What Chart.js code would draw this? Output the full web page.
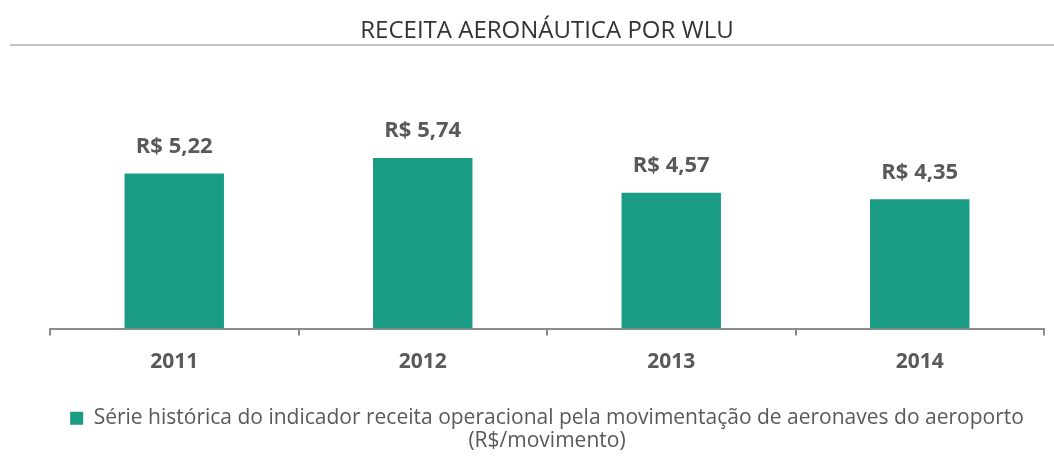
<!DOCTYPE html>
<html>
<head>
<meta charset="utf-8">
<script src="https://cdn.jsdelivr.net/npm/chart.js@4"></script>
<style>
  body { margin: 0; background: #ffffff; }
</style>
</head>
<body>
<canvas id="chart" width="1054" height="464"></canvas>
<script>
const years = ['2011', '2012', '2013', '2014'];
const receita = [5.22, 5.74, 4.57, 4.35];
const chartTitle = 'RECEITA AERONÁUTICA POR WLU';
const seriesName = 'Série histórica do indicador receita operacional pela movimentação de aeronaves do aeroporto';
const unitText = '(R$/movimento)';

const teal = '#1a9b83';
const grey = '#595959';

// "R$ 5,22" style label
function brl(v) {
    return 'R$ ' + v.toFixed(2).replace('.', ',');
}

// grey rule under the title
const titleRule = {
    id: 'titleRule',
    afterDraw(chart) {
        const ctx = chart.ctx;
        ctx.save();
        ctx.strokeStyle = '#c3c3c3';
        ctx.lineWidth = 2;
        ctx.beginPath();
        ctx.moveTo(10, 45);
        ctx.lineTo(chart.width, 45);
        ctx.stroke();
        ctx.restore();
    }
};

// value labels above the bars
const barValues = {
    id: 'barValues',
    afterDatasetsDraw(chart) {
        const ctx = chart.ctx;
        const meta = chart.getDatasetMeta(0);
        ctx.save();
        ctx.fillStyle = grey;
        ctx.font = 'bold 22px "Open Sans"';
        ctx.textAlign = 'center';
        ctx.textBaseline = 'middle';
        meta.data.forEach((bar, i) => {
            ctx.fillText(brl(receita[i]), bar.x, bar.y - 27);
        });
        ctx.restore();
    }
};

new Chart(document.getElementById('chart'), {
    type: 'bar',
    data: {
        labels: years,
        datasets: [{
            label: seriesName,
            data: receita,
            backgroundColor: teal,
            barPercentage: 0.4,
            categoryPercentage: 1.0
        }]
    },
    options: {
        responsive: false,
        devicePixelRatio: 1,
        animation: false,
        layout: {
            padding: { left: 50, right: 10, bottom: 0 }
        },
        scales: {
            x: {
                grid: {
                    offset: true,
                    drawOnChartArea: false,
                    drawTicks: true,
                    tickLength: 7,
                    color: '#8c8c8c',
                    lineWidth: 2
                },
                border: { display: true, color: '#8c8c8c', width: 2 },
                ticks: {
                    color: grey,
                    padding: 14,
                    font: { family: 'Open Sans', size: 21, weight: 'bold' }
                }
            },
            y: {
                display: false,
                min: 0,
                max: 8
            }
        },
        plugins: {
            title: {
                display: true,
                text: chartTitle,
                color: '#333333',
                font: { family: 'Open Sans', size: 24, weight: 'normal' },
                padding: { top: 17, bottom: 45 }
            },
            subtitle: {
                display: true,
                position: 'bottom',
                text: unitText,
                color: grey,
                font: { family: 'Open Sans', size: 21 },
                padding: { top: -10, bottom: 10 }
            },
            legend: {
                position: 'bottom',
                labels: {
                    color: grey,
                    boxWidth: 13,
                    boxHeight: 13,
                    padding: 19,
                    font: { family: 'Open Sans', size: 21 }
                }
            },
            tooltip: { enabled: false }
        }
    },
    plugins: [titleRule, barValues]
});
</script>
</body>
</html>
